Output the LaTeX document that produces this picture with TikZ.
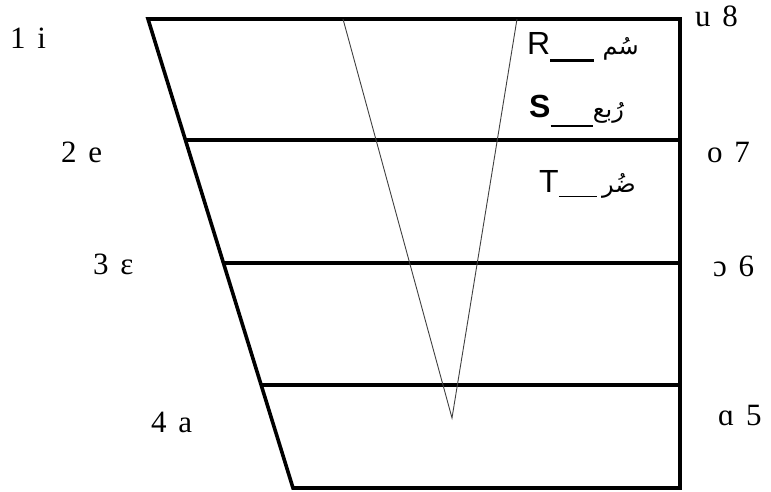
\documentclass[tikz,border=0pt]{standalone}
\usepackage{fontspec}
\setmainfont{Liberation Serif}
\setsansfont{Liberation Sans}
\newfontfamily\vowelfont{Liberation Serif}[WordSpace=1.5]
\newfontfamily\arabicfont[Script=Arabic]{DejaVu Sans}
\TeXXeTstate=1
\begin{document}
\begin{tikzpicture}[
    x=1pt, y=-1pt,
    frame/.style={line width=3.6pt, line join=miter},
    vee/.style={line width=0.9pt, black!75},
    vowel/.style={inner sep=0pt, anchor=base west, font=\vowelfont\fontsize{31}{36}\selectfont},
    root/.style={inner sep=0pt, anchor=base west, font=\fontsize{32}{36}\selectfont\sffamily},
    arab/.style={inner sep=0pt, anchor=base west, font=\arabicfont\fontsize{24}{28}\selectfont}
]
    \useasboundingbox (0,0) rectangle (771,492);

    % Define Coordinates
    \coordinate (TL) at (148,19);  % Top Left
    \coordinate (TR) at (680,19);  % Top Right
    \coordinate (BL) at (293,488); % Bottom Left
    \coordinate (BR) at (680,488); % Bottom Right
    \coordinate (L2) at (185,140);
    \coordinate (R2) at (680,140);
    \coordinate (L3) at (223,263);
    \coordinate (R3) at (680,263);
    \coordinate (L4) at (261,385);
    \coordinate (R4) at (680,385);
    \coordinate (VL) at (343,19);  % V left top
    \coordinate (VR) at (517,19);  % V right top
    \coordinate (VB) at (452,418); % V tip

    % Draw Frame and Levels
    \draw[frame] (TL) -- (TR) -- (BR) -- (BL) -- cycle;
    \draw[frame] (L2) -- (R2);
    \draw[frame] (L3) -- (R3);
    \draw[frame] (L4) -- (R4);

    % Draw the V
    \draw[vee] (VL) -- (VB) -- (VR);

    % Front vowels (left)
    \node[vowel] (v1) at (10,49)  {1 i};
    \node[vowel] (v2) at (61,162) {2 e};
    \node[vowel] (v3) at (93,274) {3 ε};
    \node[vowel] (v4) at (151,432) {4 a};

    % Back vowels (right)
    \node[vowel] (v8) at (695,27)  {u 8};
    \node[vowel] (v7) at (707,163) {o 7};
    \node[vowel] (v6) at (713,276) {ɔ 6};
    \node[vowel] (v5) at (718,425) {ɑ 5};

    % Roots: letter with a blank line, then the Arabic word
    \node[root] (rR) at (527,55) {R\rule[-7pt]{44pt}{3pt}};
    \node[arab] (aR) at ([xshift=8pt]rR.base east) {\beginR سُم\endR};
    \node[root] (rS) at (529,118) {\bfseries S\rule[-9pt]{42pt}{1.5pt}};
    \node[arab] (aS) at (rS.base east) {\beginR رُبع\endR};
    \node[root] (rT) at (539,192) {T\rule[-5pt]{38pt}{1.5pt}};
    \node[arab] (aT) at ([xshift=5pt]rT.base east) {\beginR ضُر\endR};

\end{tikzpicture}
\end{document}
